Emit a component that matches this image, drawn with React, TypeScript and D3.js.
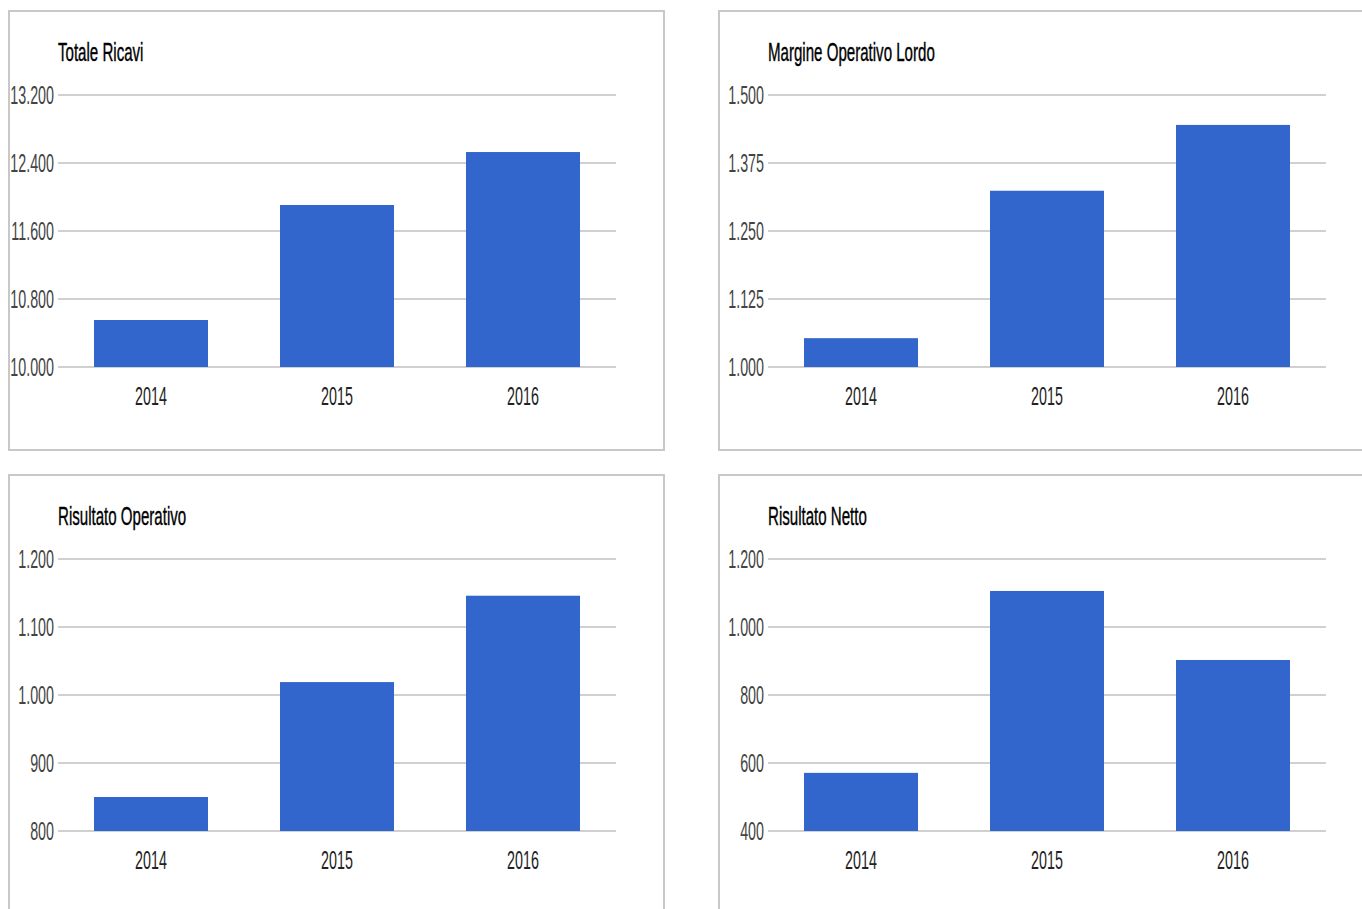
import * as d3 from "d3";
import React from "react";

const years = ["2014", "2015", "2016"];

const totaleRicavi = [10553, 11906, 12529];
const margineOperativo = [1053, 1324, 1445];
const risultatoOperativo = [850, 1019, 1146];
const risultatoNetto = [571, 1106, 903];

const ticksRicavi = [10000, 10800, 11600, 12400, 13200];
const ticksMargine = [1000, 1125, 1250, 1375, 1500];
const ticksOperativo = [800, 900, 1000, 1100, 1200];
const ticksNetto = [400, 600, 800, 1000, 1200];

const itFormat = d3.formatLocale({
  decimal: ",",
  thousands: ".",
  grouping: [3],
  currency: ["€", ""],
}).format(",.0f");

// text in the reference is very condensed
const SX = 0.55;
const FONT = "Arial, 'Liberation Sans', sans-serif";

type PanelProps = {
  x: number;
  y: number;
  title: string;
  values: number[];
  ticks: number[];
};

const Panel: React.FC<PanelProps> = ({ x, y, title, values, ticks }) => {
  const left = 49;
  const right = 607;
  const top = 84;
  const bottom = 356;

  const xs = d3.scaleBand().domain(years).range([left, right]).paddingInner(0.387).paddingOuter(0.1935);
  const ys = d3
    .scaleLinear()
    .domain([ticks[0], ticks[ticks.length - 1]])
    .range([bottom, top]);

  return (
    <g transform={`translate(${x},${y})`}>
      <rect x={0} y={0} width={655} height={439} fill="#fff" stroke="#c8c8c8" strokeWidth={2} />
      <text
        transform={`translate(49,50) scale(0.58,1)`}
        fontFamily={FONT}
        fontSize={26}
        fill="#000"
        stroke="#000"
        strokeWidth={0.4}
      >
        {title}
      </text>
      {ticks.map((t) => (
        <g key={t}>
          <line x1={left} x2={right} y1={ys(t)} y2={ys(t)} stroke="#d0d0d0" strokeWidth={2} />
          <text
            transform={`translate(${left - 4},${ys(t) + 9}) scale(${SX},1)`}
            textAnchor="end"
            fontFamily={FONT}
            fontSize={26}
            fill="#444"
          >
            {itFormat(t)}
          </text>
        </g>
      ))}
      {values.map((v, i) => (
        <rect
          key={years[i]}
          x={xs(years[i])}
          y={ys(v)}
          width={xs.bandwidth()}
          height={ys(ticks[0]) - ys(v)}
          fill="#3366cc"
        />
      ))}
      {years.map((yr) => (
        <text
          key={yr}
          transform={`translate(${(xs(yr) as number) + xs.bandwidth() / 2},${bottom + 38}) scale(${SX},1)`}
          textAnchor="middle"
          fontFamily={FONT}
          fontSize={26}
          fill="#222"
        >
          {yr}
        </text>
      ))}
    </g>
  );
};

const App: React.FC = () => {
  return (
    <svg
      width={1362}
      height={909}
      style={{ position: "absolute", left: 0, top: 0, background: "#fff" }}
    >
      <Panel x={9} y={11} title="Totale Ricavi" values={totaleRicavi} ticks={ticksRicavi} />
      <Panel x={719} y={11} title="Margine Operativo Lordo" values={margineOperativo} ticks={ticksMargine} />
      <Panel x={9} y={475} title="Risultato Operativo" values={risultatoOperativo} ticks={ticksOperativo} />
      <Panel x={719} y={475} title="Risultato Netto" values={risultatoNetto} ticks={ticksNetto} />
    </svg>
  );
};

export default App;
